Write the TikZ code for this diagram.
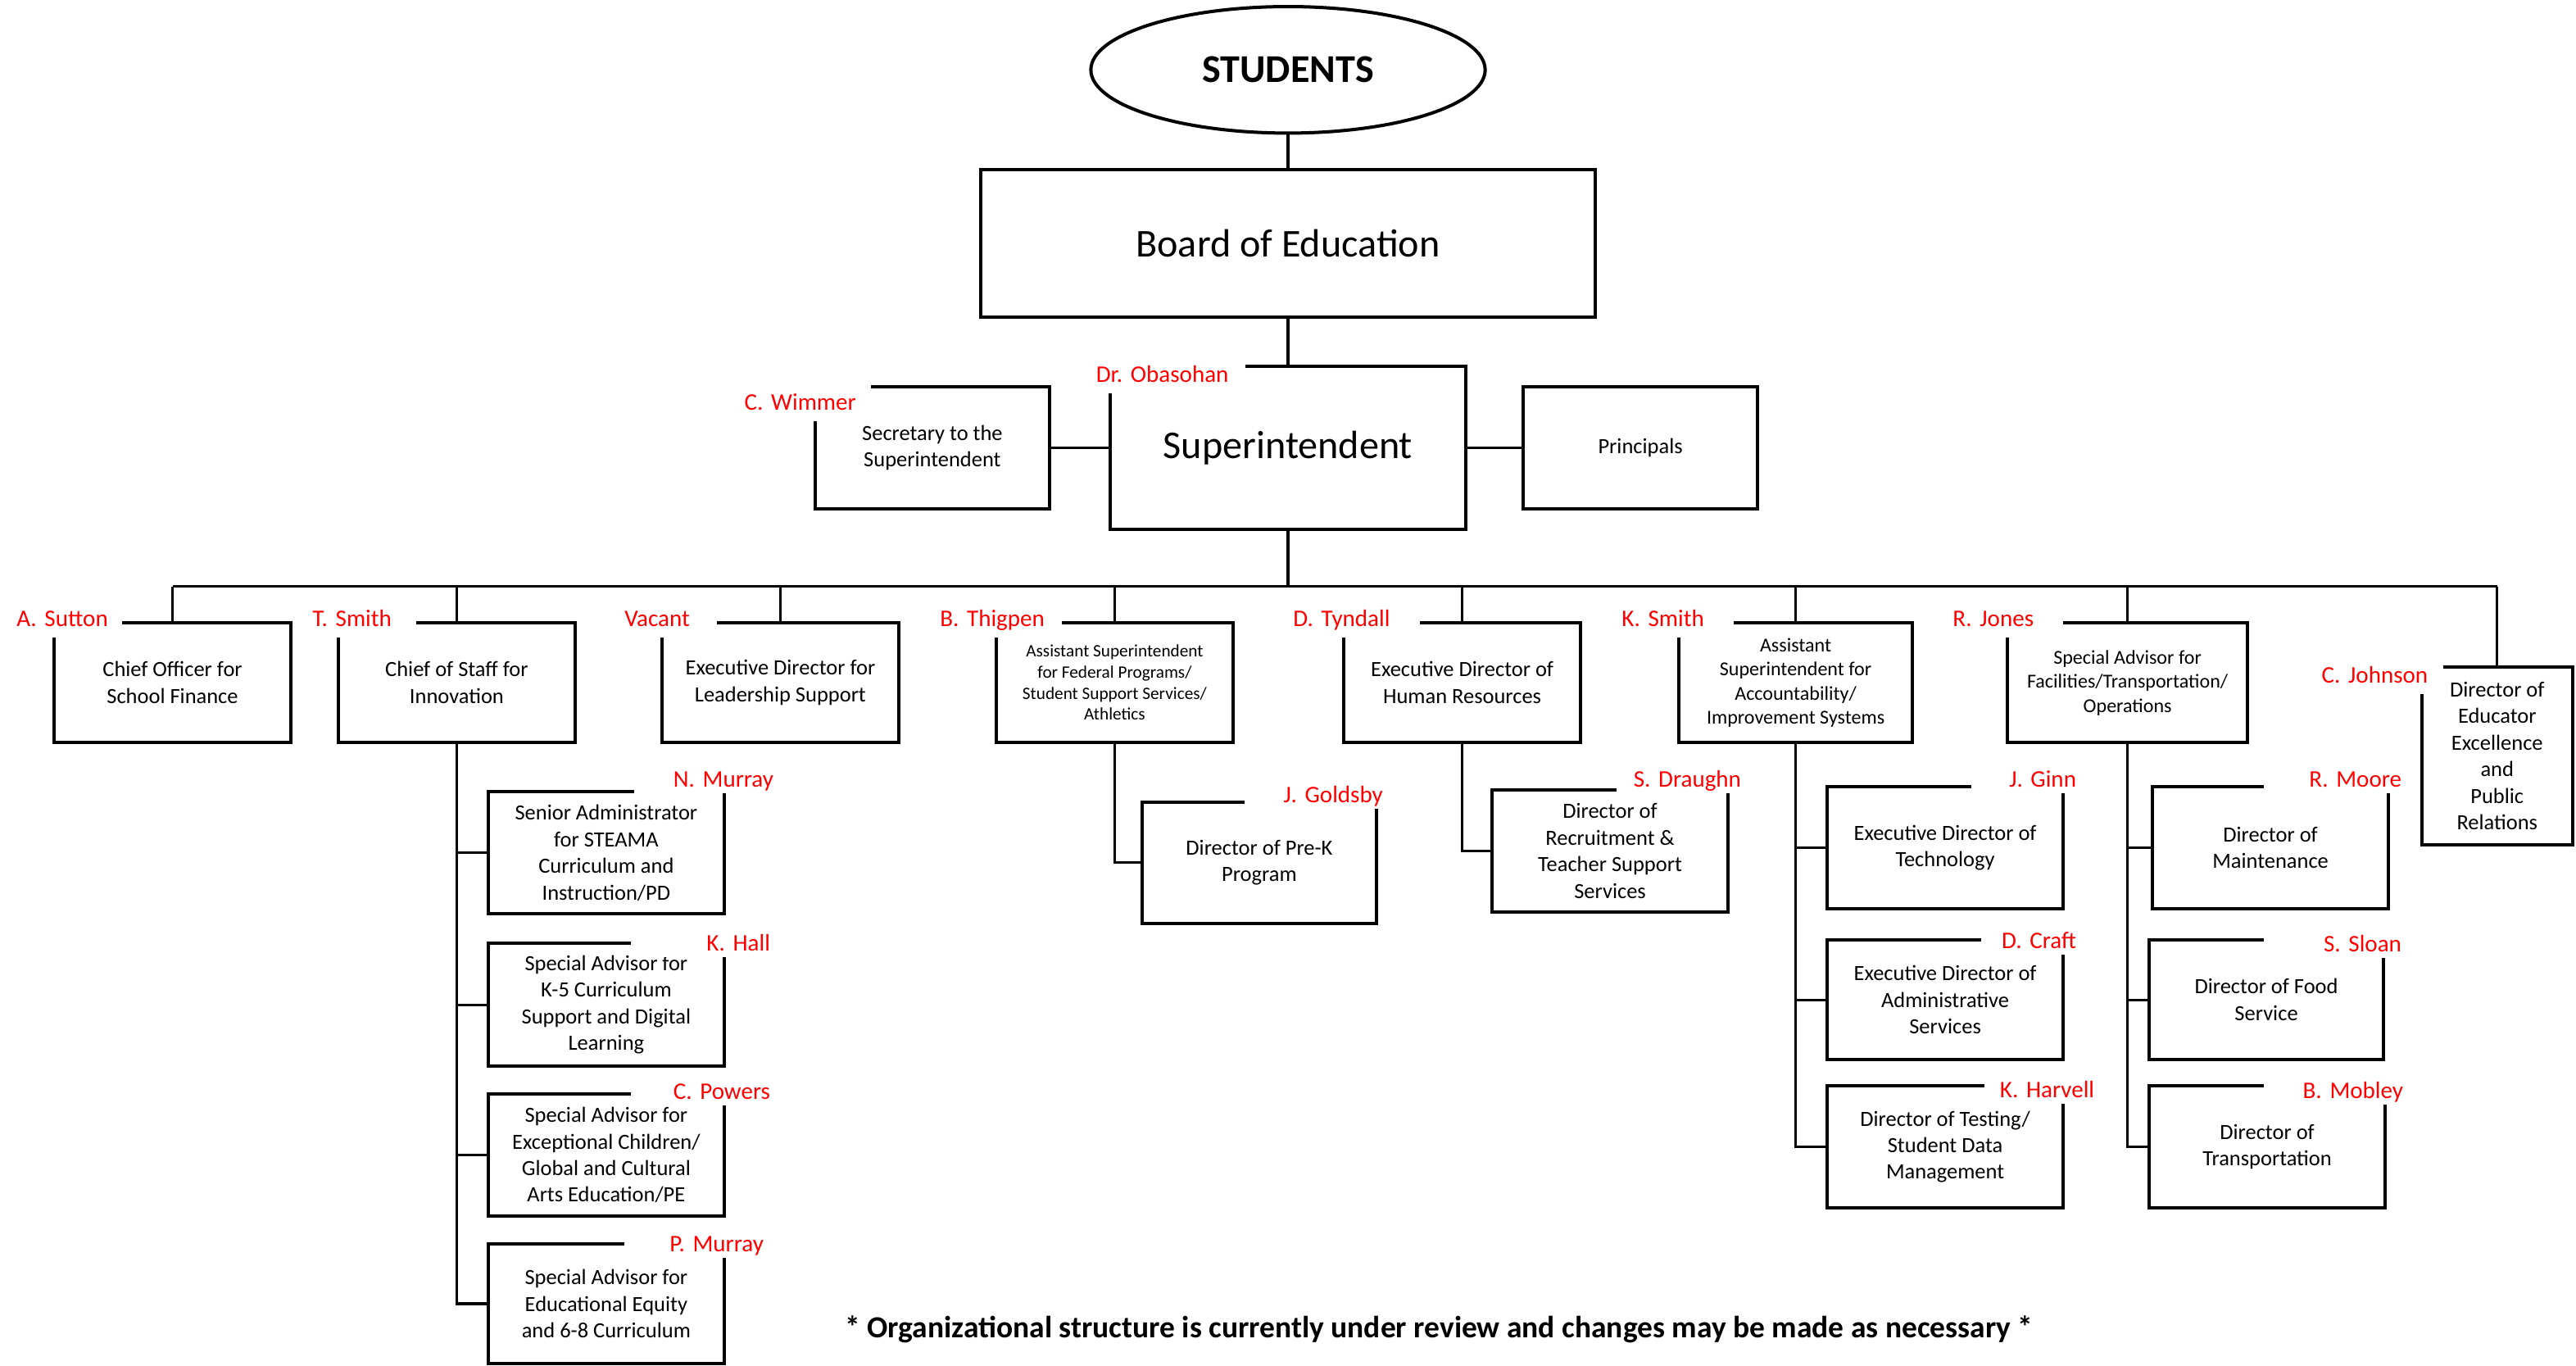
\documentclass[tikz,border=0pt]{standalone}
\usepackage{fontspec}
\setmainfont{Carlito}
\usepackage{tikz}
\usetikzlibrary{shapes.geometric}
\frenchspacing

\begin{document}
\begin{tikzpicture}[x=1pt,y=-1pt,
  box/.style 2 args={draw,line width=2pt,align=center,inner sep=0pt,
    minimum width=#1pt,minimum height=#2pt,font=\fontsize{13.2}{16.2}\selectfont},
  smallbox/.style={font=\fontsize{10.6}{12.8}\selectfont},
  midbox/.style={font=\fontsize{12}{14.7}\selectfont},
  link/.style={line width=1.6pt},
  who/.style={text=red,fill=white,inner xsep=0pt,inner ysep=3pt,
    text height=13pt,text depth=3.7pt,font=\fontsize{14.5}{17}\selectfont\frenchspacing},
  whoL/.style={who,anchor=west,align=left,text width=#1pt},
  whoR/.style={who,anchor=east,align=right,text width=#1pt,inner ysep=0pt}]
  \useasboundingbox (0,0) rectangle (1568,831);

  \node[draw,ellipse,line width=2pt,minimum width=240pt,minimum height=77pt,
    font=\fontsize{24}{28}\selectfont\bfseries] (students) at (784,42.5) {STUDENTS};
  \node[box={374}{90},font=\fontsize{24}{28}\selectfont] (board) at (784,148) {Board of Education};
  \node[box={216}{99},font=\fontsize{24}{28}\selectfont] (supt) at (784,272.5) {Superintendent};
  \node[box={143}{74}] (secretary) at (567.5,272.5) {Secretary to the\\Superintendent};
  \node[box={143}{74}] (principals) at (998.5,272.5) {Principals};

  \node[box={144}{73}] (finance) at (105,415.5) {Chief Officer for\\School Finance};
  \node[box={144}{73}] (innovation) at (278,415.5) {Chief of Staff for\\Innovation};
  \node[box={144}{73}] (leadership) at (475,415.5) {Executive Director for\\Leadership Support};
  \node[box={144}{73},smallbox] (federal) at (678.5,415.5) {Assistant Superintendent\\for Federal Programs/\\Student Support Services/\\Athletics};
  \node[box={144}{73}] (humanres) at (890,415.5) {Executive Director of\\Human Resources};
  \node[box={142}{73},midbox] (accountability) at (1093,415.5) {Assistant\\Superintendent for\\Accountability/\\Improvement Systems};
  \node[box={146}{73},midbox] (facilities) at (1295,415.5) {Special Advisor for\\Facilities/Transportation/\\Operations};
  \node[box={92}{108}] (educator) at (1520,460) {Director of\\Educator\\Excellence\\and\\Public\\Relations};

  \node[box={144}{74}] (steama) at (369,519) {Senior Administrator\\for STEAMA\\Curriculum and\\Instruction/PD};
  \node[box={144}{75}] (kfive) at (369,611.5) {Special Advisor for\\K-5 Curriculum\\Support and Digital\\Learning};
  \node[box={144}{74}] (exceptional) at (369,703) {Special Advisor for\\Exceptional Children/\\Global and Cultural\\Arts Education/PE};
  \node[box={144}{73}] (equity) at (369,793.5) {Special Advisor for\\Educational Equity\\and 6-8 Curriculum};
  \node[box={143}{74}] (prek) at (766.5,525) {Director of Pre-K\\Program};
  \node[box={144}{74}] (recruit) at (980,518) {Director of\\Recruitment \&\\Teacher Support\\Services};
  \node[box={144}{74}] (technology) at (1184,516) {Executive Director of\\Technology};
  \node[box={144}{73}] (adminserv) at (1184,608.5) {Executive Director of\\Administrative\\Services};
  \node[box={144}{74}] (testing) at (1184,698) {Director of Testing/\\Student Data\\Management};
  \node[box={144}{74}] (maintenance) at (1382,516) {Director of\\Maintenance};
  \node[box={143}{73}] (foodserv) at (1379.5,608.5) {Director of Food\\Service};
  \node[box={144}{74}] (transport) at (1380,698) {Director of\\Transportation};

  \draw[link] (students) -- (board);
  \draw[link] (board) -- (supt);
  \draw[link] (secretary) -- (supt);
  \draw[link] (supt) -- (principals);
  \coordinate (bus) at (784,357);
  \draw[link] (supt) -- (bus);
  \draw[link] (finance |- bus) -- (educator |- bus);
  \foreach \n in {finance,innovation,leadership,federal,humanres,accountability,facilities,educator}
    \draw[link] (\n) -- (\n |- bus);
  \foreach \n in {steama,kfive,exceptional,equity}
    \draw[link] (innovation) |- (\n);
  \draw[link] (federal) |- (prek);
  \draw[link] (humanres) |- (recruit);
  \foreach \n in {technology,adminserv,testing}
    \draw[link] (accountability) |- (\n);
  \foreach \n in {maintenance,foodserv,transport}
    \draw[link] (facilities) |- (\n);

  \node[whoL=91] (obasohan) at (667,228) {Dr. Obasohan};
  \node[whoL=77] (wimmer) at (453,245) {C. Wimmer};
  \node[whoL=64] (sutton) at (10,376.5) {A. Sutton};
  \node[whoL=63] (tsmith) at (190,376.5) {T. Smith};
  \node[whoL=56] (vacant) at (380,376.5) {Vacant};
  \node[whoL=74] (thigpen) at (572,376.5) {B. Thigpen};
  \node[whoL=77] (tyndall) at (787,376.5) {D. Tyndall};
  \node[whoL=68] (ksmith) at (987,376.5) {K. Smith};
  \node[whoL=67] (jones) at (1188.5,376.5) {R. Jones};
  \node[whoL=74] (johnson) at (1413,411) {C. Johnson};

  \node[whoR=85] (nmurray) at (471,474.5) {N. Murray};
  \node[whoR=85] (hall) at (469,574) {K. Hall};
  \node[whoR=85] (powers) at (469,664.5) {C. Powers};
  \node[whoR=85] (pmurray) at (465,757) {P. Murray};
  \node[whoR=84] (goldsby) at (842,484) {J. Goldsby};
  \node[whoR=76] (draughn) at (1060,474.5) {S. Draughn};
  \node[whoR=64] (ginn) at (1264,474.5) {J. Ginn};
  \node[whoR=58] (craft) at (1264,572.5) {D. Craft};
  \node[whoR=67] (harvell) at (1275,663.5) {K. Harvell};
  \node[whoR=84] (moore) at (1462,474.5) {R. Moore};
  \node[whoR=84] (sloan) at (1462,574.5) {S. Sloan};
  \node[whoR=85] (mobley) at (1463,664) {B. Mobley};

  \node[font=\fontsize{18.7}{22}\selectfont\bfseries] (note) at (876,809)
    {* Organizational structure is currently under review and changes may be made as necessary *};
\end{tikzpicture}
\end{document}
